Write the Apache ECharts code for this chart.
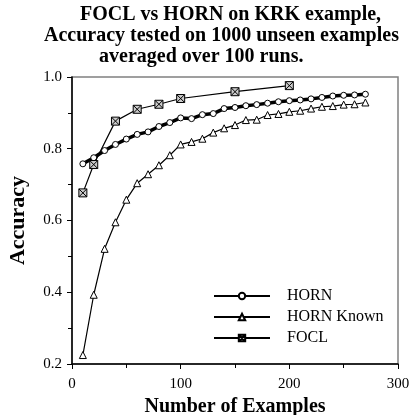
<!DOCTYPE html>
<html>
<head>
<meta charset="utf-8">
<script src="https://cdn.jsdelivr.net/npm/echarts@6/dist/echarts.min.js"></script>
<style>
html,body{margin:0;padding:0;background:#fff;}
#c{width:411px;height:415px;}
</style>
</head>
<body>
<div id="c"></div>
<script>
var hornX = [10,20,30,40,50,60,70,80,90,100,110,120,130,140,150,160,170,180,190,200,210,220,230,240,250,260,270];
var hornY = [0.758,0.775,0.795,0.812,0.827,0.840,0.847,0.862,0.873,0.886,0.884,0.895,0.898,0.912,0.915,0.920,0.923,0.927,0.931,0.934,0.936,0.939,0.943,0.947,0.949,0.950,0.952];
var knownX = [10,20,30,40,50,60,70,80,90,100,110,120,130,140,150,160,170,180,190,200,210,220,230,240,250,260,270];
var knownY = [0.225,0.393,0.521,0.595,0.658,0.704,0.729,0.754,0.782,0.812,0.819,0.828,0.845,0.857,0.866,0.880,0.881,0.894,0.897,0.903,0.906,0.912,0.917,0.919,0.923,0.924,0.929];
var foclX = [10,20,40,60,80,100,150,200];
var foclY = [0.677,0.756,0.877,0.910,0.924,0.940,0.959,0.976];
var xTicks = [0,100,200,300];
var yTicks = [0.2,0.4,0.6,0.8,1.0];
var titleLines = ['FOCL vs HORN on KRK example,','Accuracy tested on 1000 unseen examples','averaged over 100 runs.'];

function pairs(xs, ys){ return xs.map(function(x,i){return [x, ys[i]];}); }
var FONT = "'Liberation Serif','Times New Roman',serif";
var chart = echarts.init(document.getElementById('c'), null, {renderer:'canvas'});
var boxX = 'path://M0,0L10,0L10,10L0,10Z M0,0L10,10 M10,0L0,10';
var tStyle = {fontFamily:FONT,fontWeight:'bold',fontSize:20,color:'#000'};
chart.setOption({
  animation:false,
  backgroundColor:'#fff',
  title:[
    {text:titleLines[0], left:80, top:5, padding:0, textStyle:tStyle},
    {text:titleLines[1], left:44, top:26, padding:0, textStyle:tStyle},
    {text:titleLines[2], left:99, top:47, padding:0, textStyle:tStyle}
  ],
  grid:{left:72,right:13,top:77,bottom:51,containLabel:false,outerBoundsMode:'none',show:true,borderColor:'#808080',borderWidth:1.5},
  legend:{
    orient:'vertical', left:213, top:288, padding:0, itemWidth:56, itemHeight:8, itemGap:5,
    data:['HORN','HORN Known','FOCL'],
    textStyle:{fontFamily:FONT,fontSize:16,color:'#000',padding:[0,0,0,12]}
  },
  xAxis:{
    type:'value', min:0, max:300, interval:100,
    name:'Number of Examples', nameLocation:'middle', nameGap:32,
    nameTextStyle:{fontFamily:FONT,fontWeight:'bold',fontSize:20,color:'#000'},
    axisLine:{lineStyle:{color:'#000',width:1.5}},
    axisTick:{show:true,length:5,lineStyle:{color:'#000',width:1}},
    minorTick:{show:true,splitNumber:2,length:4,lineStyle:{color:'#000',width:1}},
    axisLabel:{fontFamily:FONT,fontSize:15,color:'#000',margin:13,
      formatter:function(v){return xTicks.indexOf(v)>=0? String(v):'';}},
    splitLine:{show:false}
  },
  yAxis:{
    type:'value', min:0.2, max:1.0, interval:0.2,
    name:'Accuracy', nameLocation:'middle', nameGap:43,
    nameTextStyle:{fontFamily:FONT,fontWeight:'bold',fontSize:22,color:'#000'},
    axisLine:{show:true,lineStyle:{color:'#000',width:1.5}},
    axisTick:{show:true,length:5,lineStyle:{color:'#000',width:1}},
    minorTick:{show:true,splitNumber:2,length:4,lineStyle:{color:'#000',width:1}},
    axisLabel:{fontFamily:FONT,fontSize:15,color:'#000',margin:10,
      formatter:function(v){var s=v.toFixed(1); return yTicks.map(function(t){return t.toFixed(1);}).indexOf(s)>=0? s:'';}},
    splitLine:{show:false}
  },
  series:[
    {name:'HORN', type:'line', data:pairs(hornX,hornY), symbol:'circle', symbolSize:6,
      lineStyle:{color:'#000',width:3.5}, itemStyle:{color:'#fff',borderColor:'#000',borderWidth:1}, z:3},
    {name:'HORN Known', type:'line', data:pairs(knownX,knownY), symbol:'triangle', symbolSize:7,
      lineStyle:{color:'#000',width:1.2}, itemStyle:{color:'#fff',borderColor:'#000',borderWidth:1}, z:2},
    {name:'FOCL', type:'line', data:pairs(foclX,foclY), symbol:boxX, symbolSize:8,
      lineStyle:{color:'#000',width:1.2}, itemStyle:{color:'#ccc',borderColor:'#000',borderWidth:1}, z:4}
  ]
});
</script>
</body>
</html>
